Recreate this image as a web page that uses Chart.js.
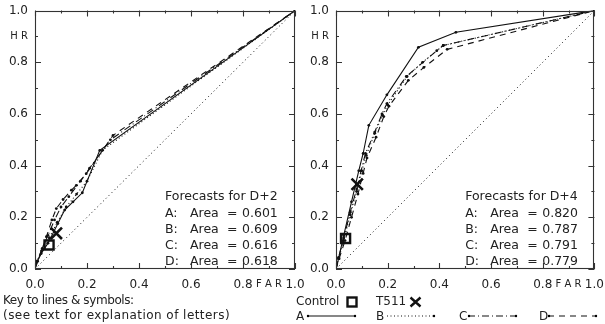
<!DOCTYPE html>
<html lang="en">

<head>
    <meta charset="UTF-8">
    <title>ROC curves D+2 / D+4</title>
    <style>
        body { margin: 0; background: #fff; }
        #wrap { position: relative; width: 605px; height: 324px; font-family: "DejaVu Sans", sans-serif; color: #222; }
        canvas { position: absolute; left: 0; top: 0; }
        .txt { position: absolute; font-size: 12px; line-height: 14px; white-space: nowrap; }
        .key { position: absolute; }
    </style>
</head>

<body>
    <div id="wrap">
        <canvas id="chart-d2" width="605" height="324"></canvas>
        <canvas id="chart-d4" width="605" height="324"></canvas>

        <div class="txt" style="left:3px; top:293px; letter-spacing:-0.4px">Key to lines &amp; symbols:</div>
        <div class="txt" style="left:3px; top:308px; letter-spacing:0.45px">(see text for explanation of letters)</div>

        <div class="txt" style="left:296px; top:294px">Control</div>
        <svg class="key" style="left:346px; top:296px" width="12" height="12"><rect x="1.5" y="1.5" width="9" height="9" fill="none" stroke="#111" stroke-width="2.4"/></svg>
        <div class="txt" style="left:376px; top:294px">T511</div>
        <svg class="key" style="left:409px; top:296px" width="13" height="12"><path d="M1.5 1.5 L11.5 10.5 M11.5 1.5 L1.5 10.5" stroke="#111" stroke-width="2.4"/></svg>

        <div class="txt" style="left:296px; top:309px">A</div>
        <svg class="key" style="left:306px; top:313px" width="52" height="6"><line x1="1" y1="3" x2="50" y2="3" stroke="#111" stroke-width="1.1"/><circle cx="2" cy="3" r="1.2"/><circle cx="49" cy="3" r="1.2"/></svg>
        <div class="txt" style="left:376px; top:309px">B</div>
        <svg class="key" style="left:386px; top:313px" width="52" height="6"><line x1="1" y1="3" x2="48" y2="3" stroke="#111" stroke-width="1.1" stroke-dasharray="1 2.5"/><circle cx="48" cy="3" r="1.2"/></svg>
        <div class="txt" style="left:459px; top:309px">C</div>
        <svg class="key" style="left:467px; top:313px" width="52" height="6"><line x1="1" y1="3" x2="50" y2="3" stroke="#111" stroke-width="1.1" stroke-dasharray="7 3 1 3"/><circle cx="2" cy="3" r="1.2"/><circle cx="49" cy="3" r="1.2"/></svg>
        <div class="txt" style="left:539px; top:309px">D</div>
        <svg class="key" style="left:547px; top:313px" width="52" height="6"><line x1="1" y1="3" x2="50" y2="3" stroke="#111" stroke-width="1.1" stroke-dasharray="6 5"/><circle cx="2" cy="3" r="1.2"/><circle cx="49" cy="3" r="1.2"/></svg>
    </div>

    <script src="https://cdn.jsdelivr.net/npm/chart.js"></script>

    <script>
        // ---- data ----
        const letters = ['A', 'B', 'C', 'D'];
        const tickValues = [0, 0.1, 0.2, 0.3, 0.4, 0.5, 0.6, 0.7, 0.8, 0.9, 1.0];
        const xTickLabels = ['0.0', '', '0.2', '', '0.4', '', '0.6', '', '0.8', 'F A R', '1.0'];
        const yTickLabels = ['0.0', '', '0.2', '', '0.4', '', '0.6', '', '0.8', 'H R', '1.0'];
        const diagonal = [0, 1];

        // D+2
        const d2Title = 'Forecasts for D+2';
        const d2Areas = [0.601, 0.609, 0.616, 0.618];
        const d2FarA = [0, 0.005, 0.024, 0.05, 0.088, 0.114, 0.146, 0.182, 0.249, 1];
        const d2HrA = [0, 0.022, 0.06, 0.1, 0.176, 0.228, 0.26, 0.295, 0.459, 1];
        const d2FarB = [0, 0.008, 0.03, 0.055, 0.085, 0.12, 0.16, 0.2, 0.26, 1];
        const d2HrB = [0, 0.03, 0.075, 0.12, 0.18, 0.24, 0.29, 0.34, 0.46, 1];
        const d2FarC = [0, 0.008, 0.028, 0.05, 0.075, 0.1, 0.13, 0.175, 0.21, 0.29, 1];
        const d2HrC = [0, 0.03, 0.08, 0.13, 0.19, 0.24, 0.28, 0.34, 0.39, 0.5, 1];
        const d2FarD = [0, 0.01, 0.025, 0.044, 0.065, 0.082, 0.108, 0.14, 0.159, 0.197, 0.3, 1];
        const d2HrD = [0, 0.03, 0.07, 0.125, 0.19, 0.234, 0.269, 0.305, 0.324, 0.369, 0.517, 1];
        const d2Control = [0.054, 0.093];
        const d2T511 = [0.082, 0.138];

        // D+4
        const d4Title = 'Forecasts for D+4';
        const d4Areas = [0.820, 0.787, 0.791, 0.779];
        const d4FarA = [0, 0.01, 0.03, 0.06, 0.088, 0.105, 0.127, 0.197, 0.319, 0.464, 1];
        const d4HrA = [0, 0.04, 0.13, 0.26, 0.38, 0.447, 0.556, 0.674, 0.858, 0.916, 1];
        const d4FarB = [0, 0.01, 0.03, 0.055, 0.08, 0.1, 0.117, 0.15, 0.18, 0.2, 0.275, 0.335, 0.415, 1];
        const d4HrB = [0, 0.04, 0.11, 0.21, 0.3, 0.38, 0.44, 0.525, 0.595, 0.635, 0.745, 0.8, 0.865, 1];
        const d4FarC = [0, 0.01, 0.03, 0.055, 0.08, 0.097, 0.114, 0.15, 0.178, 0.197, 0.272, 0.39, 0.415, 1];
        const d4HrC = [0, 0.045, 0.12, 0.22, 0.31, 0.38, 0.447, 0.53, 0.6, 0.64, 0.745, 0.845, 0.865, 1];
        const d4FarD = [0, 0.012, 0.035, 0.06, 0.085, 0.105, 0.12, 0.155, 0.185, 0.205, 0.28, 0.34, 0.43, 1];
        const d4HrD = [0, 0.04, 0.11, 0.2, 0.29, 0.37, 0.43, 0.51, 0.59, 0.63, 0.73, 0.78, 0.85, 1];
        const d4Control = [0.037, 0.118];
        const d4T511 = [0.082, 0.328];

        // ---- drawing ----
        const INK = '#111';
        const FONT = '"DejaVu Sans", sans-serif';
        const dashes = [[], [1, 2.5], [7, 3, 1, 3], [6, 5]];

        const pts = (xs, ys) => xs.map((x, i) => ({ x: x, y: ys[i] }));

        // frame with inward tick marks on all four sides, plus the area text
        const frame = {
            id: 'frame',
            afterDraw(chart, args, o) {
                const { ctx, chartArea: a, scales: { x, y } } = chart;
                ctx.save();
                ctx.strokeStyle = '#333';
                ctx.lineWidth = 1.1;
                ctx.setLineDash([]);
                ctx.strokeRect(Math.round(a.left) + 0.5, Math.round(a.top) + 0.5,
                    Math.round(a.right - a.left) - 1, Math.round(a.bottom - a.top) - 1);
                ctx.beginPath();
                tickValues.forEach((v, i) => {
                    const len = i % 2 === 0 ? 6 : 3;
                    const px = Math.round(x.getPixelForValue(v)) + 0.5;
                    const py = Math.round(y.getPixelForValue(v)) + 0.5;
                    ctx.moveTo(px, a.bottom); ctx.lineTo(px, a.bottom - len);
                    ctx.moveTo(px, a.top); ctx.lineTo(px, a.top + len);
                    ctx.moveTo(a.left, py); ctx.lineTo(a.left + len, py);
                    ctx.moveTo(a.right, py); ctx.lineTo(a.right - len, py);
                });
                ctx.stroke();

                const left = x.getPixelForValue(0.5);
                const top = y.getPixelForValue(0.278);
                ctx.fillStyle = '#222';
                ctx.font = '12.5px ' + FONT;
                ctx.textBaseline = 'middle';
                ctx.fillText(o.title, left, top);
                o.areas.forEach((v, i) => {
                    const yy = top + 16.1 * (i + 1);
                    ctx.fillText(letters[i] + ':', left, yy);
                    ctx.fillText('Area', left + 25, yy);
                    ctx.fillText('=', left + 62, yy);
                    ctx.fillText(v.toFixed(3), left + 77, yy);
                });
                ctx.restore();
            }
        };

        function axis(labels, isX) {
            return {
                type: 'linear',
                min: 0,
                max: 1,
                grid: { display: false, drawTicks: false },
                border: { display: false },
                afterBuildTicks: s => { s.ticks = tickValues.map(v => ({ value: v })); },
                afterFit: s => {
                    if (isX) s.height = 55; else s.width = 35;
                    s.paddingTop = s.paddingBottom = s.paddingLeft = s.paddingRight = 0;
                },
                ticks: {
                    autoSkip: false,
                    maxRotation: 0,
                    padding: isX ? 9 : 7,
                    color: '#222',
                    font: c => ({ family: FONT, size: c.index === 9 ? 10 : 12 }),
                    callback: (v, i) => labels[i]
                }
            };
        }

        function makeChart(id, pad, far, hr, control, t511, title, areas) {
            const datasets = [{
                data: pts(diagonal, diagonal),
                borderColor: INK,
                borderWidth: 1,
                borderDash: [1, 3],
                pointRadius: 0
            }];
            letters.forEach((l, i) => {
                datasets.push({
                    label: l,
                    data: pts(far[i], hr[i]),
                    borderColor: INK,
                    backgroundColor: INK,
                    borderWidth: 1.1,
                    borderDash: dashes[i],
                    pointRadius: 1.4,
                    pointBorderWidth: 0
                });
            });
            datasets.push({
                label: 'Control',
                data: [{ x: control[0], y: control[1] }],
                showLine: false,
                pointStyle: 'rect',
                pointRadius: 6.4,
                pointBorderWidth: 2.4,
                borderColor: INK,
                backgroundColor: 'rgba(0,0,0,0)'
            }, {
                label: 'T511',
                data: [{ x: t511[0], y: t511[1] }],
                showLine: false,
                pointStyle: 'crossRot',
                pointRadius: 8,
                pointBorderWidth: 2.6,
                borderColor: INK
            });

            return new Chart(document.getElementById(id), {
                type: 'scatter',
                data: { datasets: datasets },
                options: {
                    responsive: false,
                    animation: false,
                    showLine: true,
                    layout: { padding: pad },
                    plugins: {
                        legend: { display: false },
                        tooltip: { enabled: false },
                        frame: { title: title, areas: areas }
                    },
                    scales: {
                        x: axis(xTickLabels, true),
                        y: axis(yTickLabels, false)
                    }
                },
                plugins: [frame]
            });
        }

        makeChart('chart-d2', { left: 0, right: 310, top: 10, bottom: 0 },
            [d2FarA, d2FarB, d2FarC, d2FarD], [d2HrA, d2HrB, d2HrC, d2HrD],
            d2Control, d2T511, d2Title, d2Areas);

        makeChart('chart-d4', { left: 301, right: 9, top: 10, bottom: 0 },
            [d4FarA, d4FarB, d4FarC, d4FarD], [d4HrA, d4HrB, d4HrC, d4HrD],
            d4Control, d4T511, d4Title, d4Areas);
    </script>
</body>

</html>
